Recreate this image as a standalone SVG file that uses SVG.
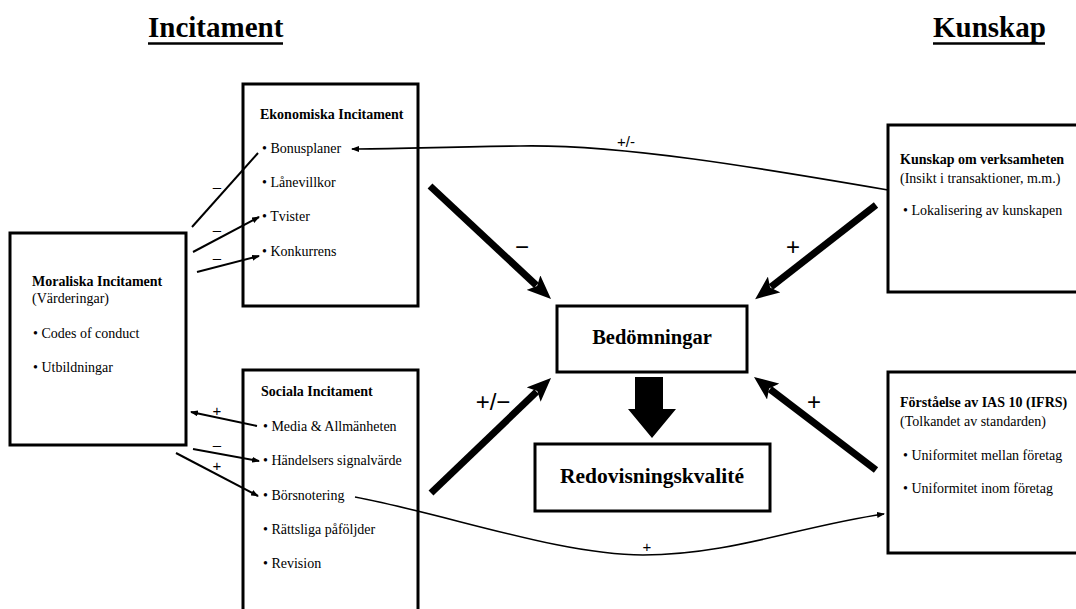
<svg xmlns="http://www.w3.org/2000/svg" width="1076" height="609" viewBox="0 0 1076 609">
<style>
.box{fill:#fff;stroke:#000;stroke-width:3}
.t{font-family:"Liberation Serif","Times New Roman",serif;fill:#000}
.h{font-size:14px;font-weight:bold}
.r{font-size:14px}
.title{font-size:29px;font-weight:bold}
.big{font-size:20.5px;font-weight:bold}
.thin{fill:none;stroke:#000;stroke-width:2}
.curve{fill:none;stroke:#000;stroke-width:1.6}
.thick{fill:none;stroke:#000;stroke-width:7}
.lbl{font-family:"Liberation Sans",Arial,sans-serif;font-size:15px;fill:#000}
.biglbl{font-family:"Liberation Sans",Arial,sans-serif;font-size:24px;fill:#000}
</style>
<defs>
<marker id="ah" viewBox="0 0 24 20" markerUnits="userSpaceOnUse" markerWidth="24" markerHeight="20" refX="4" refY="10" orient="auto">
<path d="M0,0 L24,10 L0,20 L5,10 z" fill="#000"/>
</marker>
<marker id="sa" viewBox="0 0 8 6" markerUnits="userSpaceOnUse" markerWidth="8" markerHeight="6" refX="7" refY="3" orient="auto">
<path d="M0,0 L8,3 L0,6 z" fill="#000"/>
</marker>
</defs>

<g id="titles">
<text class="t title" x="148" y="37">Incitament</text>
<line x1="148" y1="43.5" x2="283" y2="43.5" stroke="#000" stroke-width="2.5"/>
<text class="t title" x="933" y="37">Kunskap</text>
<line x1="933" y1="43.5" x2="1045" y2="43.5" stroke="#000" stroke-width="2.5"/>
</g>

<g id="ekonomiska">
<rect class="box" x="243" y="84" width="175" height="222"/>
<text class="t h" x="260" y="119">Ekonomiska Incitament</text>
<text class="t r" x="262" y="153">•  Bonusplaner</text>
<text class="t r" x="262" y="187">•  Lånevillkor</text>
<text class="t r" x="262" y="221">•  Tvister</text>
<text class="t r" x="262" y="256">•  Konkurrens</text>
</g>

<g id="moraliska">
<rect class="box" x="10" y="233" width="176" height="212"/>
<text class="t h" x="32" y="286">Moraliska Incitament</text>
<text class="t r" x="32" y="303">(Värderingar)</text>
<text class="t r" x="33" y="338">•  Codes of conduct</text>
<text class="t r" x="33" y="372">•  Utbildningar</text>
</g>

<g id="sociala">
<rect class="box" x="243" y="370" width="175" height="245"/>
<text class="t h" x="261" y="396">Sociala Incitament</text>
<text class="t r" x="263" y="431">•  Media &amp; Allmänheten</text>
<text class="t r" x="263" y="465">•  Händelsers signalvärde</text>
<text class="t r" x="263" y="500">•  Börsnotering</text>
<text class="t r" x="263" y="534">•  Rättsliga påföljder</text>
<text class="t r" x="263" y="568">•  Revision</text>
</g>

<g id="kunskap-verksamhet">
<rect class="box" x="888" y="125" width="200" height="167"/>
<text class="t h" x="900" y="164">Kunskap om verksamheten</text>
<text class="t r" x="900" y="183">(Insikt i transaktioner, m.m.)</text>
<text class="t r" x="903" y="215">•  Lokalisering av kunskapen</text>
</g>

<g id="forstaelse">
<rect class="box" x="888" y="372" width="200" height="181"/>
<text class="t h" x="900" y="407">Förståelse av IAS 10 (IFRS)</text>
<text class="t r" x="900" y="426">(Tolkandet av standarden)</text>
<text class="t r" x="903" y="460">•  Uniformitet mellan företag</text>
<text class="t r" x="903" y="493">•  Uniformitet inom företag</text>
</g>

<g id="bedomningar">
<rect class="box" x="557" y="306" width="190" height="66"/>
<text class="t big" x="652" y="344" text-anchor="middle">Bedömningar</text>
</g>

<g id="redovisningskvalite">
<rect class="box" x="535" y="444" width="235" height="67"/>
<text class="t big" x="652" y="483" text-anchor="middle" style="font-size:21.5px">Redovisningskvalité</text>
</g>

<g id="connectors">
<path class="thick" d="M430,186 L536.4,285.4" marker-end="url(#ah)"/>
<path class="thick" d="M876,205 L770.9,286.9" marker-end="url(#ah)"/>
<path class="thick" d="M431,493 L536.6,391.8" marker-end="url(#ah)"/>
<path class="thick" d="M876,470 L769.9,389.1" marker-end="url(#ah)"/>
<polygon points="635,377 663,377 663,409 676,409 652,438 628,409 635,409" fill="#000"/>
<text class="biglbl" x="522" y="255" text-anchor="middle">−</text>
<text class="biglbl" x="793" y="255" text-anchor="middle">+</text>
<text class="biglbl" x="493" y="410" text-anchor="middle">+/−</text>
<text class="biglbl" x="814" y="410" text-anchor="middle">+</text>

<path class="curve" d="M888,190 C760,168 620,144 520,146 C440,147 390,149 352,149" marker-end="url(#sa)"/>
<text class="lbl" x="626" y="147" text-anchor="middle">+/-</text>

<path class="thin" d="M192,227 L258,153"/>
<path class="thin" d="M193,252 L259,217" marker-end="url(#sa)"/>
<path class="thin" d="M197,272 L259,256" marker-end="url(#sa)"/>
<text class="lbl" x="217" y="192" text-anchor="middle">–</text>
<text class="lbl" x="217" y="235" text-anchor="middle">–</text>
<text class="lbl" x="217" y="263" text-anchor="middle">–</text>

<path class="thin" d="M257,426 L191,412" marker-end="url(#sa)"/>
<path class="thin" d="M193,449 L259,461" marker-end="url(#sa)"/>
<path class="thin" d="M176,453 L258,496" marker-end="url(#sa)"/>
<text class="lbl" x="217" y="416" text-anchor="middle">+</text>
<text class="lbl" x="217" y="450" text-anchor="middle">–</text>
<text class="lbl" x="217" y="471" text-anchor="middle">+</text>

<path class="curve" d="M355,497 C450,515 560,555 643,555 C730,555 800,526 884,514" marker-end="url(#sa)"/>
<text class="lbl" x="647" y="552" text-anchor="middle">+</text>
</g>
</svg>
